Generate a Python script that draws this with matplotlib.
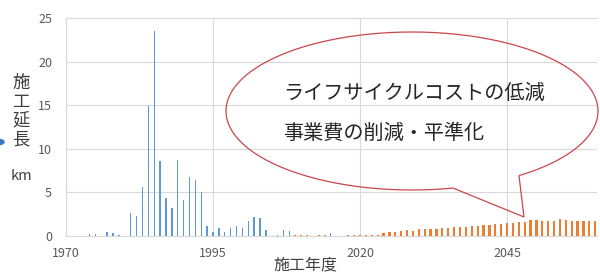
import numpy as np
import matplotlib
matplotlib.use("Agg")
import matplotlib.pyplot as plt
from matplotlib.path import Path
from matplotlib.patches import PathPatch, Circle

plt.rcParams['font.family'] = ['Noto Sans CJK JP', 'DejaVu Sans']

# ---- data ----
blue_years = [1974, 1975, 1977, 1978, 1979, 1981, 1982, 1983, 1984, 1985, 1986, 1987,
              1988, 1989, 1990, 1991, 1992, 1993, 1994, 1995, 1996, 1997, 1998, 1999,
              2000, 2001, 2002, 2003, 2004, 2006, 2007, 2008, 2015]
blue_vals = [0.2, 0.2, 0.5, 0.35, 0.08, 2.6, 2.3, 5.6, 14.9, 23.5, 8.6, 4.4,
             3.2, 8.7, 4.1, 6.8, 6.4, 5.1, 1.15, 0.5, 0.9, 0.5, 0.9, 1.15,
             0.9, 1.7, 2.2, 2.1, 0.7, 0.1, 0.7, 0.55, 0.4]
orange_years = [2009, 2010, 2011, 2013, 2014, 2018, 2019, 2020, 2021, 2022, 2023] + list(range(2024, 2061))
orange_vals = [0.1, 0.1, 0.1, 0.1, 0.1, 0.1, 0.1, 0.1, 0.1, 0.1, 0.1,
               0.4, 0.5, 0.5, 0.57, 0.7, 0.6, 0.77, 0.77, 0.8, 0.85, 0.92, 0.96,
               1.07, 1.07, 1.07, 1.15, 1.2, 1.23, 1.3, 1.34, 1.42, 1.5, 1.53, 1.57,
               1.6, 1.84, 1.8, 1.69, 1.72, 1.76, 1.92, 1.8, 1.72, 1.72, 1.72, 1.72, 1.72]
x_ticks = [1970, 1995, 2020, 2045]
y_ticks = [0, 5, 10, 15, 20, 25]
ylabel_chars = ["施", "工", "延", "長"]
bubble_lines = ["ライフサイクルコストの低減", "事業費の削減・平準化"]

W, H = 600, 274
fig = plt.figure(figsize=(W / 100, H / 100), dpi=100)
fig.patch.set_facecolor('white')

def fx(px):
    return px / W

def fy(py):
    return 1 - py / H

ax = fig.add_axes([fx(66), fy(236), fx(597) - fx(66), fy(18) - fy(236)])
ax.bar(blue_years, blue_vals, width=0.24, color='#5B9BD5', zorder=3)
ax.bar(orange_years, orange_vals, width=0.38, color='#ED7D31', zorder=3)

ax.set_xlim(1970, 2060.3)
ax.set_ylim(0, 25)
ax.set_xticks(x_ticks)
ax.set_yticks(y_ticks)
grid_c = '#D9D9D9'
ax.grid(True, color=grid_c, lw=0.8, zorder=0)
ax.set_axisbelow(True)
for s in ['left', 'bottom', 'top']:
    ax.spines[s].set_color(grid_c)
    ax.spines[s].set_linewidth(0.8)
ax.spines['right'].set_visible(False)
ax.tick_params(axis='both', length=0, colors='#595959', labelsize=9)
ax.tick_params(axis='y', pad=10)
ax.tick_params(axis='x', pad=8)

# y-label (stacked vertical chars)
ys = [83, 102, 120, 139]
for ch, yy in zip(ylabel_chars, ys):
    fig.text(fx(21), fy(yy), ch, ha='center', va='center', fontsize=12.5, color='#404040')
fig.text(fx(21), fy(176), "km", ha='center', va='center', fontsize=10.5, color='#404040')

# x-label
fig.text(fx(305), fy(273), "施工年度", ha='center', va='bottom', fontsize=11.5, color='#404040')

# partial blue marker at left edge
circ = Circle((fx(-2), fy(142)), radius=6 / W, transform=fig.transFigure,
              color='#3B78C2', clip_on=False)
fig.add_artist(circ)

# speech bubble (outline only)
cx, cy, rx, ry = 412, 111, 186, 79
t2 = np.arctan2(0.818, 0.575)
t1 = np.arctan2(0.975, 0.2204) - 2 * np.pi
ts = np.linspace(t2, t1, 300)
pts = [(cx + rx * np.cos(t), cy + ry * np.sin(t)) for t in ts]
pts.append((524, 217))
pts.append(pts[0])
verts = [(fx(x), fy(y)) for x, y in pts]
path = Path(verts)
patch = PathPatch(path, transform=fig.transFigure, fill=False, edgecolor='#C9474B', lw=0.9)
fig.add_artist(patch)

fig.text(fx(283), fy(93), bubble_lines[0], ha='left', va='center', fontsize=14.5, color='#262626')
fig.text(fx(283), fy(133), bubble_lines[1], ha='left', va='center', fontsize=14.5, color='#262626')

fig.savefig("out.png", dpi=100)
